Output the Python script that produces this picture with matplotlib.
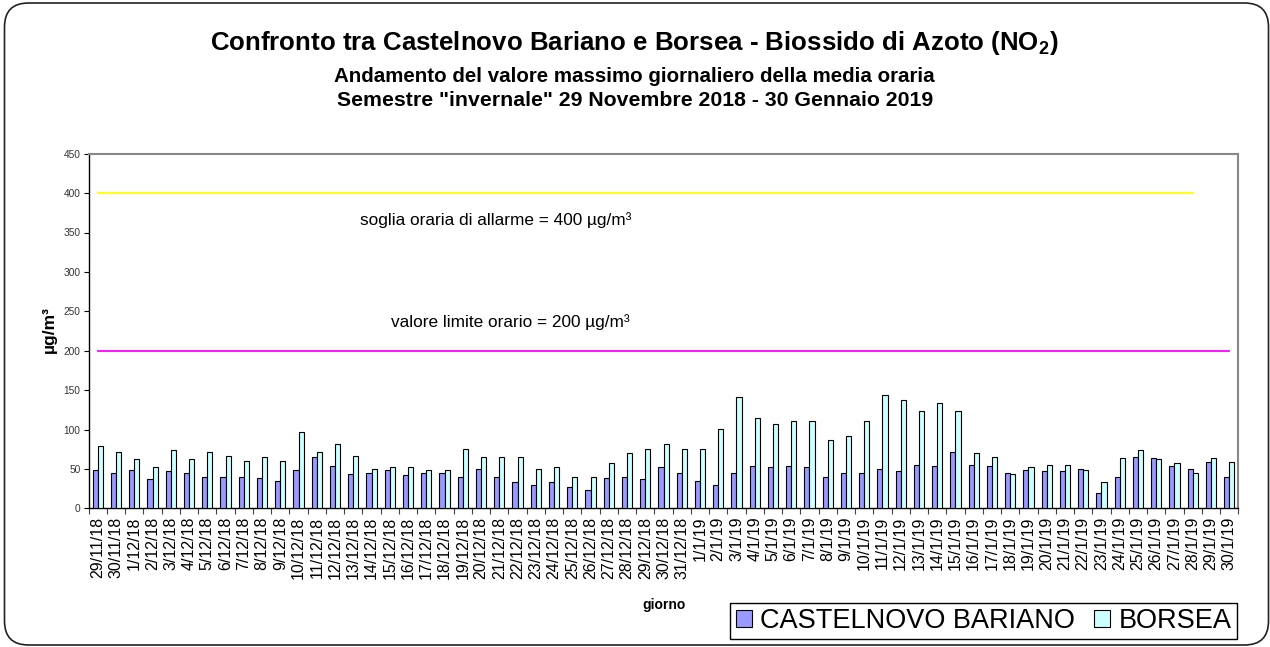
import matplotlib
matplotlib.use('Agg')
import matplotlib.pyplot as plt
from matplotlib.patches import FancyBboxPatch, Patch
import numpy as np

giorni = ["29/11/18", "30/11/18", "1/12/18", "2/12/18", "3/12/18", "4/12/18", "5/12/18",
          "6/12/18", "7/12/18", "8/12/18", "9/12/18", "10/12/18", "11/12/18", "12/12/18",
          "13/12/18", "14/12/18", "15/12/18", "16/12/18", "17/12/18", "18/12/18", "19/12/18",
          "20/12/18", "21/12/18", "22/12/18", "23/12/18", "24/12/18", "25/12/18", "26/12/18",
          "27/12/18", "28/12/18", "29/12/18", "30/12/18", "31/12/18", "1/1/19", "2/1/19",
          "3/1/19", "4/1/19", "5/1/19", "6/1/19", "7/1/19", "8/1/19", "9/1/19", "10/1/19",
          "11/1/19", "12/1/19", "13/1/19", "14/1/19", "15/1/19", "16/1/19", "17/1/19",
          "18/1/19", "19/1/19", "20/1/19", "21/1/19", "22/1/19", "23/1/19", "24/1/19",
          "25/1/19", "26/1/19", "27/1/19", "28/1/19", "29/1/19", "30/1/19"]

castelnovo = [49, 45, 49, 37, 47, 45, 40, 40, 40, 39, 35, 49, 65, 54, 43, 45, 49, 42, 45, 45,
              40, 50, 40, 33, 30, 33, 27, 23, 39, 40, 37, 52, 45, 35, 30, 45, 54, 52, 54, 52,
              40, 45, 45, 50, 47, 55, 54, 72, 55, 54, 45, 49, 47, 47, 50, 20, 40, 65, 64, 54,
              50, 59, 40]

borsea = [79, 72, 62, 52, 74, 62, 72, 67, 60, 65, 60, 97, 72, 82, 67, 50, 53, 52, 48, 49,
          75, 65, 65, 65, 50, 53, 40, 40, 58, 70, 75, 82, 75, 75, 101, 141, 114, 107, 111, 111,
          87, 92, 111, 144, 138, 124, 133, 124, 70, 65, 44, 52, 55, 55, 49, 33, 64, 74, 62, 57,
          45, 64, 59]

serie = ["CASTELNOVO BARIANO", "BORSEA"]
soglia_allarme = 400
soglia_allarme_fine = "28/1/19"
valore_limite = 200
testo_allarme = "soglia oraria di allarme = 400 µg/m³"
testo_limite = "valore limite orario = 200 µg/m³"

plt.rcParams['font.family'] = ['Liberation Sans', 'DejaVu Sans']
plt.rcParams['mathtext.fontset'] = 'custom'
plt.rcParams['mathtext.rm'] = 'Liberation Sans'
plt.rcParams['mathtext.bf'] = 'Liberation Sans:bold'

W, H = 1270, 647
fig = plt.figure(figsize=(W / 100, H / 100), dpi=100)

bg = fig.add_axes([0, 0, 1, 1], zorder=-1)
bg.set_xlim(0, W)
bg.set_ylim(H, 0)
bg.axis('off')
bg.add_patch(FancyBboxPatch((4.5, 3), 1264, 642, boxstyle='round,pad=0,rounding_size=24',
                            fc='white', ec='#222222', lw=1.2))

L, R, T, B = 88.7, 1238.3, 153.7, 508.3
ax = fig.add_axes([L / W, 1 - B / H, (R - L) / W, (B - T) / H])
ax.patch.set_alpha(0)

x = np.arange(len(giorni))
w = 0.28
ax.bar(x - w / 2, castelnovo, w, color='#9999FF', edgecolor='black', lw=0.8, zorder=3)
ax.bar(x + w / 2, borsea, w, color='#CCFFFF', edgecolor='black', lw=0.8, zorder=3)

fine = giorni.index(soglia_allarme_fine)
ax.plot(x[:fine + 1], [soglia_allarme] * (fine + 1), color='#FFFF00', lw=1.3, zorder=2)
ax.plot(x, [valore_limite] * len(x), color='#FF00FF', lw=1.3, zorder=2)

ax.text(21.8, 366, testo_allarme, ha='center', va='center', fontsize=12.4)
ax.text(22.6, 236, testo_limite, ha='center', va='center', fontsize=12.4)

ax.set_xlim(-0.5, len(giorni) - 0.5)
ax.set_ylim(0, 450)
ax.set_yticks(np.arange(0, 451, 50))
ax.tick_params(axis='y', direction='out', length=3.5, width=0.8, labelsize=7.3, pad=2.5,
               labelcolor='#333333')
ax.set_xticks(x)
ax.set_xticklabels(giorni, rotation=90, fontsize=11.5)
ax.tick_params(axis='x', which='major', length=0, pad=6)
ax.set_xticks(np.arange(-0.5, len(giorni), 1), minor=True)
ax.tick_params(axis='x', which='minor', direction='out', length=4, width=0.8, color='#444444')

for s in ['top', 'right']:
    ax.spines[s].set_color('#888888')
    ax.spines[s].set_linewidth(1.5)
for s in ['left', 'bottom']:
    ax.spines[s].set_color('black')
    ax.spines[s].set_linewidth(1.0)

fig.text(634 / W, 1 - 43 / H, r"Confronto tra Castelnovo Bariano e Borsea - Biossido di Azoto (NO$_\mathbf{2}$)",
         ha='center', va='center', fontsize=18.6, fontweight='bold')
fig.text(634 / W, 1 - 76 / H, "Andamento del valore massimo giornaliero della media oraria",
         ha='center', va='center', fontsize=14.8, fontweight='bold')
fig.text(635 / W, 1 - 101 / H, 'Semestre "invernale" 29 Novembre 2018 - 30 Gennaio 2019',
         ha='center', va='center', fontsize=15.3, fontweight='bold')

fig.text(664 / W, 1 - 605 / H, "giorno", ha='center', va='center', fontsize=10, fontweight='bold')
fig.text(49 / W, 1 - 330 / H, "µg/m³", ha='center', va='center', rotation=90, fontsize=12.5,
         fontweight='bold')

handles = [Patch(facecolor='#9999FF', edgecolor='black', lw=0.8),
           Patch(facecolor='#CCFFFF', edgecolor='black', lw=0.8)]
leg = fig.legend(handles, serie, loc='center', bbox_to_anchor=((726 + 1241) / 2 / W, 1 - 621 / H),
                 ncol=2, fontsize=19.5, frameon=True, fancybox=False, framealpha=1,
                 edgecolor='black', handlelength=0.6, handleheight=0.6, handletextpad=0.3,
                 columnspacing=0.7, borderpad=0.2, borderaxespad=0)
leg.get_frame().set_linewidth(1.0)

fig.savefig('out.png', dpi=100)
